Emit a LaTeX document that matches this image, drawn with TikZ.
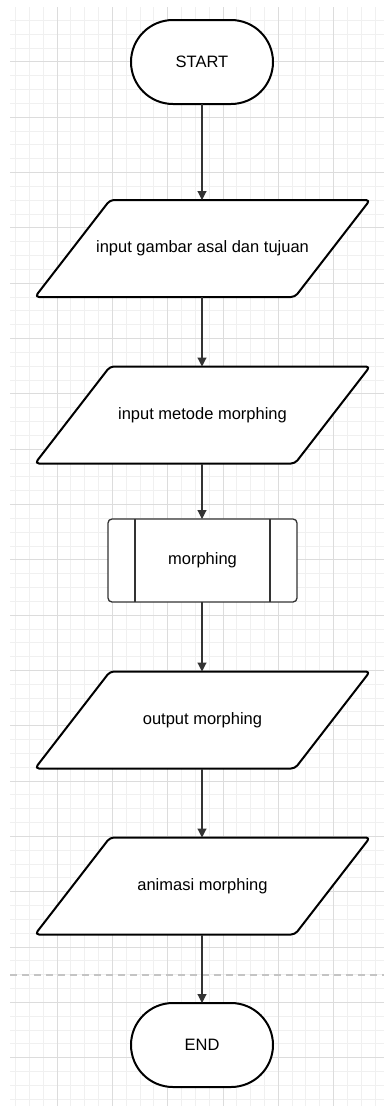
\documentclass[tikz,border=0pt]{standalone}
\usepackage{fontspec}
\setmainfont{Liberation Sans}
\usetikzlibrary{arrows.meta}
\definecolor{gridminor}{HTML}{F0F0F0}
\definecolor{gridmajor}{HTML}{DCDCDC}
\definecolor{edgecol}{HTML}{333333}
\definecolor{dashcol}{HTML}{C4C4C4}
\newcommand\iostep[3]{%
  \path[ioline] (110,#2-48.5) -- (370,#2-48.5) -- (295,#2+48.5) -- (35,#2+48.5) -- cycle;
  \node[iobox] (#1) at (202.5,#2) {#3};}
\begin{document}
\begin{tikzpicture}[x=1pt,y=-1pt,
  lbl/.style={font=\fontsize{16.5}{19}\selectfont, text=black},
  term/.style={lbl, draw=black, line width=2pt, fill=white, rounded corners=42pt,
    minimum width=142pt, minimum height=84pt, inner sep=0pt, outer sep=0pt},
  iobox/.style={lbl, minimum width=335pt, minimum height=97pt, inner sep=0pt, outer sep=0pt},
  ioline/.style={draw=black, line width=2pt, fill=white, rounded corners=4pt, line join=round},
  procbox/.style={lbl, draw=edgecol, line width=1.3pt, fill=white, rounded corners=4pt,
    minimum width=189pt, minimum height=83pt, inner sep=0pt, outer sep=0pt},
  procline/.style={draw=edgecol, line width=1.3pt},
  flow/.style={draw=edgecol, line width=1.1pt, -{Triangle[length=9pt,width=9pt]}},
  gmin/.style={draw=gridminor, line width=0.9pt},
  gmaj/.style={draw=gridmajor, line width=0.9pt},
  sep/.style={draw=dashcol, line width=1.1pt, dash pattern=on 7pt off 5pt}
]
\useasboundingbox (0,0) rectangle (384,1106);
\fill[white] (0,0) rectangle (384,1106);
\begin{scope}
  \clip (10,7) rectangle (384,1106);
  \foreach \i in {1,...,27} \draw[gmin] ({1.67+13.83*\i},7) -- ({1.67+13.83*\i},1106);
  \foreach \j in {0,...,79} \draw[gmin] (10,{6.6+13.83*\j}) -- (384,{6.6+13.83*\j});
  \foreach \i in {1,...,6} \draw[gmaj] ({1.67+55.33*\i},7) -- ({1.67+55.33*\i},1106);
  \foreach \j in {0,...,19} \draw[gmaj] (10,{6.6+55.33*\j}) -- (384,{6.6+55.33*\j});
\end{scope}
\draw[sep] (10,975) -- (384,975);

\node[term] (start) at (202,62) {START};
\iostep{p1}{248.5}{input gambar asal dan tujuan}
\iostep{p2}{415}{input metode morphing}
\node[procbox] (proc) at (202.5,560.5) {morphing};
\draw[procline] ([xshift=27pt]proc.north west) -- ([xshift=27pt]proc.south west);
\draw[procline] ([xshift=-27pt]proc.north east) -- ([xshift=-27pt]proc.south east);
\iostep{p3}{720}{output morphing}
\iostep{p4}{886}{animasi morphing}
\node[term] (end) at (202,1045) {END};

\draw[flow] (start.south) -- (p1.north -| start.south);
\draw[flow] (p1.south -| start.south) -- (p2.north -| start.south);
\draw[flow] (p2.south -| start.south) -- (proc.north -| start.south);
\draw[flow] (proc.south -| start.south) -- (p3.north -| start.south);
\draw[flow] (p3.south -| start.south) -- (p4.north -| start.south);
\draw[flow] (p4.south -| start.south) -- (end.north);
\end{tikzpicture}
\end{document}
